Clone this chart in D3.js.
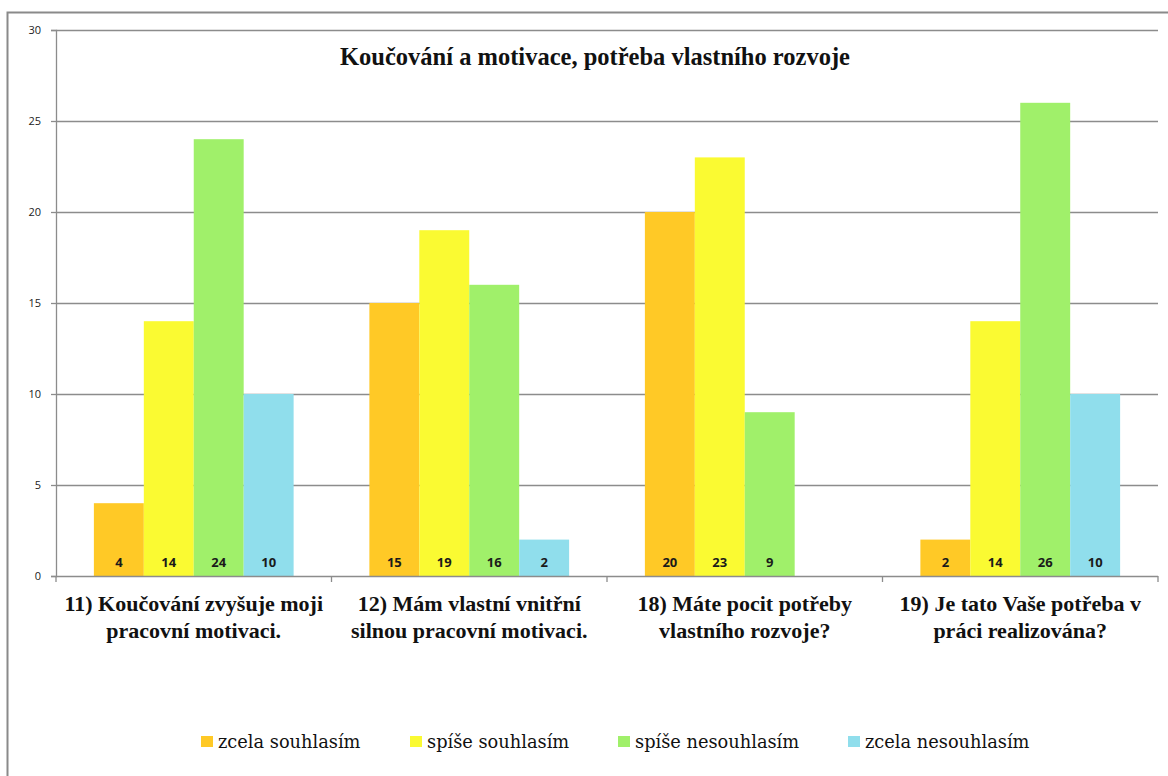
<!DOCTYPE html>
<html><head><meta charset="utf-8">
<script src="https://cdn.jsdelivr.net/npm/d3@7"></script>
<style>body{margin:0;background:#fff}svg{display:block}</style>
</head><body>
<script>
const categories = [
  ["11) Koučování zvyšuje moji", "pracovní motivaci."],
  ["12) Mám vlastní vnitřní", "silnou pracovní motivaci."],
  ["18) Máte pocit potřeby", "vlastního rozvoje?"],
  ["19) Je tato Vaše potřeba v", "práci realizována?"]
];
const seriesNames = ["zcela souhlasím", "spíše souhlasím", "spíše nesouhlasím", "zcela nesouhlasím"];
const zcelaSouhlasim = [4, 15, 20, 2];
const spiseSouhlasim = [14, 19, 23, 14];
const spiseNesouhlasim = [24, 16, 9, 26];
const zcelaNesouhlasim = [10, 2, 0, 10];
const yTicks = [0, 5, 10, 15, 20, 25, 30];
const colors = ["#FFC926", "#FAFA32", "#A0F06A", "#90DEEC"];
const title = "Koučování a motivace, potřeba vlastního rozvoje";

const series = [zcelaSouhlasim, spiseSouhlasim, spiseNesouhlasim, zcelaNesouhlasim];
const W = 1168, H = 776;
const svg = d3.select("body").append("svg").attr("width", W).attr("height", H);

// outer chart border
svg.append("rect").attr("x", 7.5).attr("y", 12.5).attr("width", W + 20).attr("height", H + 20)
  .attr("fill", "none").attr("stroke", "#8a8a8a").attr("stroke-width", 2);

const plot = {left: 56, right: 1158, top: 30, bottom: 576};
const y = d3.scaleLinear().domain([0, 30]).range([plot.bottom, plot.top]);
const x0 = d3.scaleBand().domain(d3.range(categories.length)).range([plot.left, plot.right]).paddingInner(0).paddingOuter(0);
const innerPad = 0.1375;
const x1 = d3.scaleBand().domain(d3.range(series.length))
  .range([x0.bandwidth() * innerPad, x0.bandwidth() * (1 - innerPad)]);

// gridlines
svg.append("g").selectAll("line").data(yTicks.filter(t => t > 0)).join("line")
  .attr("x1", plot.left).attr("x2", plot.right)
  .attr("y1", d => Math.round(y(d)) + 0.5).attr("y2", d => Math.round(y(d)) + 0.5)
  .attr("stroke", "#8c8c8c").attr("stroke-width", 1.3);

// y axis
const yAxis = svg.append("g").attr("transform", `translate(${plot.left},0)`)
  .call(d3.axisLeft(y).tickValues(yTicks).tickSize(5).tickPadding(10));
yAxis.select(".domain").attr("stroke", "#8c8c8c").attr("stroke-width", 1.3);
yAxis.selectAll(".tick line").attr("stroke", "#8c8c8c").attr("stroke-width", 1.3);
yAxis.selectAll(".tick text").attr("font-family", "'Open Sans', 'Liberation Sans', sans-serif")
  .attr("font-size", 11).attr("fill", "#222");

// bars
const groups = svg.append("g").selectAll("g").data(categories).join("g")
  .attr("transform", (d, i) => `translate(${x0(i)},0)`);
groups.selectAll("rect").data((d, i) => series.map((s, j) => ({v: s[i], j})).filter(e => e.v > 0))
  .join("rect")
  .attr("x", e => x1(e.j)).attr("width", x1.bandwidth())
  .attr("y", e => y(e.v)).attr("height", e => y(0) - y(e.v))
  .attr("fill", e => colors[e.j]);
groups.selectAll("text.val").data((d, i) => series.map((s, j) => ({v: s[i], j})).filter(e => e.v > 0))
  .join("text").attr("class", "val")
  .attr("x", e => x1(e.j) + x1.bandwidth() / 2).attr("y", y(0) - 9)
  .attr("text-anchor", "middle")
  .attr("font-family", "'Open Sans', 'Liberation Sans', sans-serif").attr("font-weight", "bold")
  .attr("font-size", 13).attr("fill", "#1a1a1a").text(e => e.v);

// x axis
const xAxis = svg.append("g").attr("transform", `translate(0,${plot.bottom})`);
xAxis.append("line").attr("x1", plot.left).attr("x2", plot.right).attr("y1", 0.5).attr("y2", 0.5)
  .attr("stroke", "#8c8c8c").attr("stroke-width", 1.3);
xAxis.selectAll("line.tk").data(d3.range(categories.length + 1)).join("line").attr("class", "tk")
  .attr("x1", i => plot.left + i * x0.bandwidth()).attr("x2", i => plot.left + i * x0.bandwidth())
  .attr("y1", 0).attr("y2", 6).attr("stroke", "#8c8c8c").attr("stroke-width", 1.3);
const labels = xAxis.selectAll("text").data(categories).join("text")
  .attr("x", (d, i) => x0(i) + x0.bandwidth() / 2)
  .attr("text-anchor", "middle")
  .attr("font-family", "'Liberation Serif', 'Times New Roman', serif").attr("font-weight", "bold")
  .attr("font-size", 22).attr("fill", "#111");
labels.each(function(d) {
  const t = d3.select(this);
  d.forEach((line, k) => t.append("tspan").attr("x", t.attr("x")).attr("y", 35 + k * 27).text(line));
});

// title
svg.append("text").attr("x", 595).attr("y", 65).attr("text-anchor", "middle")
  .attr("font-family", "'Liberation Serif', 'Times New Roman', serif").attr("font-weight", "bold")
  .attr("font-size", 24.5).attr("fill", "#111").text(title);

// legend
const legendX = [201, 410, 618, 848];
const lg = svg.append("g").selectAll("g").data(seriesNames).join("g")
  .attr("transform", (d, i) => `translate(${legendX[i]},736)`);
lg.append("rect").attr("width", 12).attr("height", 11).attr("fill", (d, i) => colors[i]);
lg.append("text").attr("x", 17).attr("y", 11.5)
  .attr("font-family", "'DejaVu Serif', 'Liberation Serif', serif")
  .attr("font-size", 17.8).attr("fill", "#111").text(d => d);
</script>
</body></html>
